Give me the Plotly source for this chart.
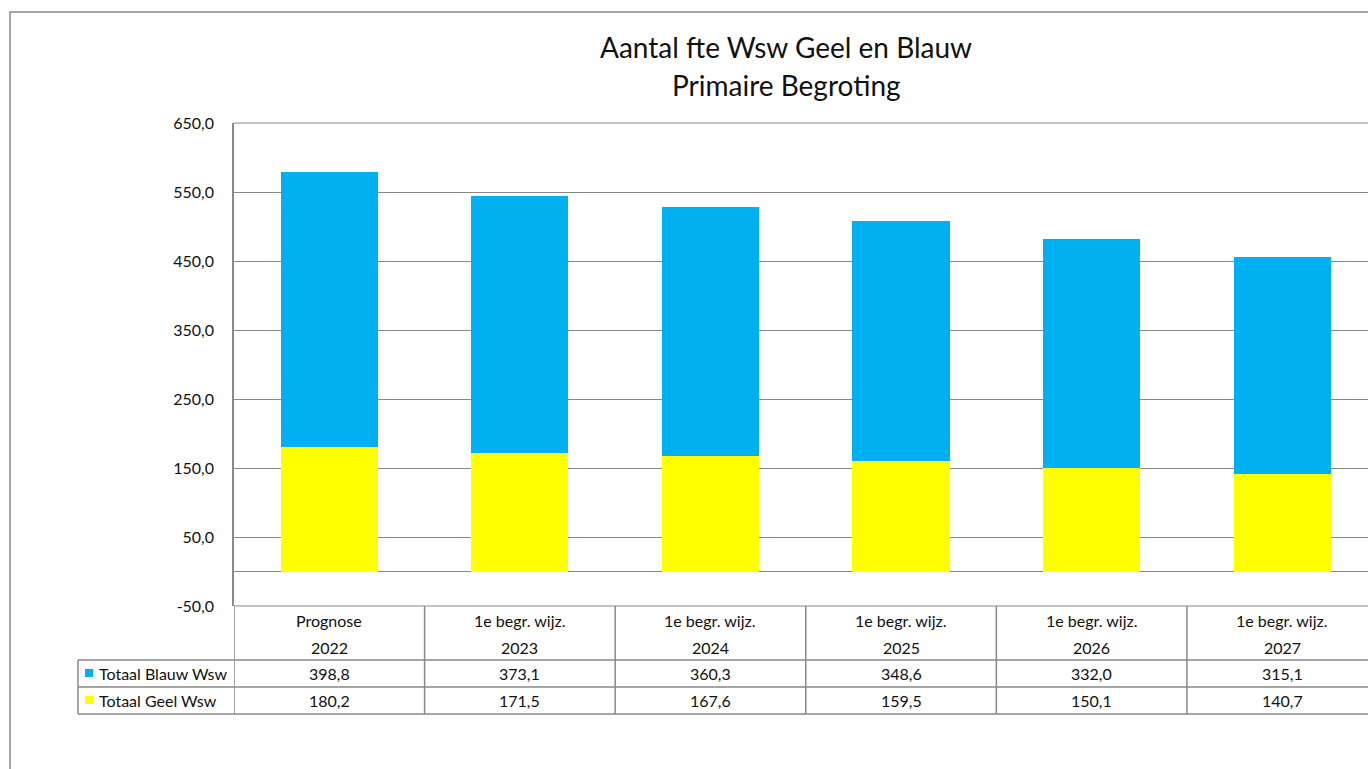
import plotly.graph_objects as go

# ---- data ----
cat_line1 = ["Prognose", "1e begr. wijz.", "1e begr. wijz.", "1e begr. wijz.", "1e begr. wijz.", "1e begr. wijz."]
cat_line2 = ["2022", "2023", "2024", "2025", "2026", "2027"]
blauw = [398.8, 373.1, 360.3, 348.6, 332.0, 315.1]
geel = [180.2, 171.5, 167.6, 159.5, 150.1, 140.7]
series_names = ["Totaal Blauw Wsw", "Totaal Geel Wsw"]
title_lines = ["Aantal fte Wsw Geel en Blauw", "Primaire Begroting"]
y_ticks = [-50, 50, 150, 250, 350, 450, 550, 650]

# ---- layout geometry (page pixels; body margin removed via post_script) ----
W, H = 1368, 769
L, T, B = 234, 123, 606
BLUE = "#00B0F0"
YELLOW = "#FFFF00"
GRID = "#898989"
FONT = "Lato"
TXT = "#111111"
FS = 16


def px(x):
    return (x - L) / (W - L)


def py(y):
    return (B - y) / (B - T)


def fmt(v):
    return f"{v:.1f}".replace(".", ",")


xs = list(range(len(cat_line2)))

fig = go.Figure()
fig.add_trace(go.Bar(x=xs, y=geel, name=series_names[1], marker=dict(color=YELLOW, line=dict(width=0)), width=0.51))
fig.add_trace(go.Bar(x=xs, y=blauw, name=series_names[0], marker=dict(color=BLUE, line=dict(width=0)), width=0.51))

shapes = []
# outer chart border
shapes.append(dict(type="rect", xref="paper", yref="paper", x0=px(10), x1=px(1400), y0=py(800), y1=py(12),
                   line=dict(color=GRID, width=1.5), fillcolor="rgba(0,0,0,0)", layer="below"))
# top (650) and bottom (-50) plot-area edge lines
for yp in [0, 1]:
    shapes.append(dict(type="line", xref="paper", yref="paper", x0=0, x1=1.02, y0=yp, y1=yp,
                       line=dict(color=GRID, width=1.2)))
# table horizontal lines
for yy in [660, 687, 714]:
    shapes.append(dict(type="line", xref="paper", yref="paper", x0=px(78), x1=1.02, y0=py(yy), y1=py(yy),
                       line=dict(color=GRID, width=1.5)))
# table vertical lines (category boundaries)
for k in range(len(xs) + 1):
    shapes.append(dict(type="line", xref="x", yref="paper", x0=k - 0.5, x1=k - 0.5, y0=py(606), y1=py(714),
                       line=dict(color=GRID, width=1.5)))
# legend column left border
shapes.append(dict(type="line", xref="paper", yref="paper", x0=px(78), x1=px(78), y0=py(660), y1=py(714),
                   line=dict(color=GRID, width=1.5)))
# legend keys
for yc, col in [(673, BLUE), (700, YELLOW)]:
    shapes.append(dict(type="rect", xref="paper", yref="paper", x0=px(85), x1=px(93), y0=py(yc + 4), y1=py(yc - 4),
                       line=dict(width=0), fillcolor=col))

annotations = []
for i, line in enumerate(title_lines):
    annotations.append(dict(text=line, xref="paper", yref="paper", x=px(786), y=py([47, 85][i]),
                            xanchor="center", yanchor="middle", showarrow=False,
                            font=dict(family=FONT, size=28, color=TXT)))
for k in xs:
    for txt, yy in [(cat_line1[k], 620), (cat_line2[k], 647), (fmt(blauw[k]), 673), (fmt(geel[k]), 700)]:
        annotations.append(dict(text=txt, xref="x", yref="paper", x=k, y=py(yy), xanchor="center",
                                yanchor="middle", showarrow=False, font=dict(family=FONT, size=FS, color=TXT)))
for name, yc in [(series_names[0], 673), (series_names[1], 700)]:
    annotations.append(dict(text=name, xref="paper", yref="paper", x=px(97), y=py(yc), xanchor="left",
                            yanchor="middle", showarrow=False, font=dict(family=FONT, size=FS, color=TXT)))

fig.update_layout(
    width=W, height=H,
    margin=dict(l=L, r=0, t=T, b=H - B, pad=0),
    barmode="stack",
    bargap=0,
    showlegend=False,
    plot_bgcolor="white",
    paper_bgcolor="white",
    separators=",.",
    shapes=shapes,
    annotations=annotations,
    xaxis=dict(range=[-0.5, 5.45], showticklabels=False, showgrid=False, zeroline=False, showline=False,
               ticks="", fixedrange=True),
    yaxis=dict(range=[-50, 650], tickmode="array", tickvals=y_ticks, ticktext=[fmt(v) for v in y_ticks],
               showgrid=True, gridcolor=GRID, gridwidth=1,
               zeroline=True, zerolinecolor=GRID, zerolinewidth=1,
               showline=True, linecolor=GRID, linewidth=1.5,
               ticks="", ticklabelstandoff=15,
               tickfont=dict(family=FONT, size=FS, color=TXT)),
)

fig.write_html("out.html", config={"displayModeBar": False},
               post_script="document.body.style.margin='0';document.body.style.overflow='hidden';")
